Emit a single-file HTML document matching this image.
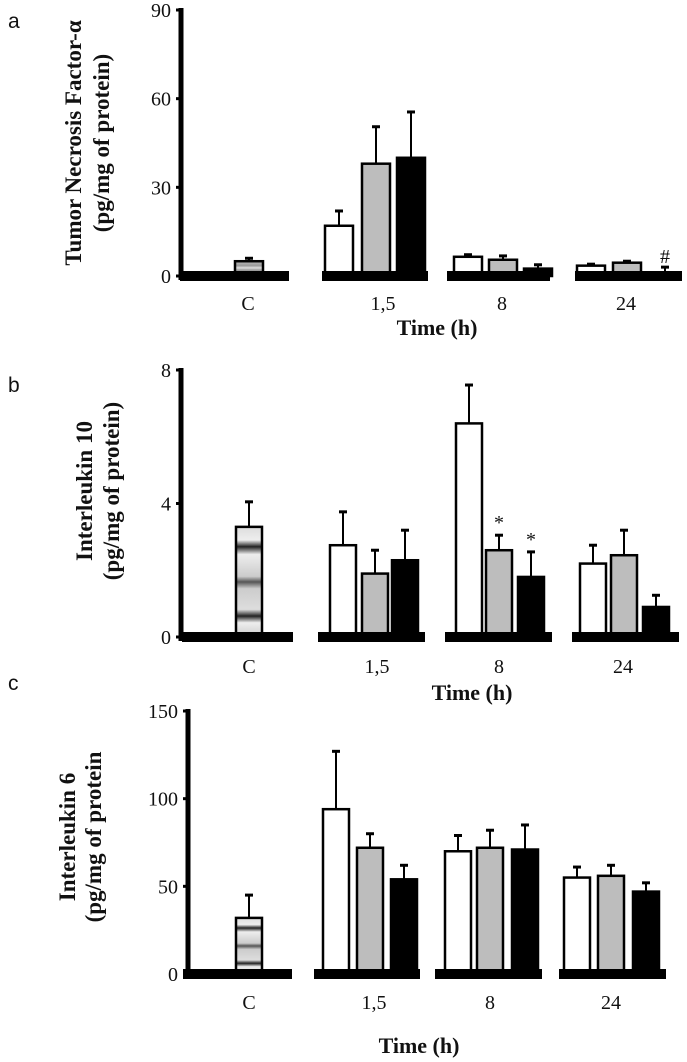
<!DOCTYPE html>
<html><head><meta charset="utf-8"><style>
html,body{margin:0;padding:0;background:#fff;}
svg{display:block;}
.t{font-family:"Liberation Serif",serif;font-size:20px;fill:#111;}
.ti{font-family:"Liberation Serif",serif;font-size:22px;font-weight:bold;fill:#111;}
.yt{font-family:"Liberation Serif",serif;font-size:23px;font-weight:bold;fill:#111;}
.pl{font-family:"Liberation Sans",sans-serif;font-size:21px;fill:#111;}
</style></head><body>
<svg id="fig" width="687" height="1062" viewBox="0 0 687 1062">
<defs>
<linearGradient id="gb" x1="0" y1="0" x2="0" y2="1">
<stop offset="0" stop-color="#ddd"/><stop offset="0.12" stop-color="#eee"/><stop offset="0.18" stop-color="#222"/><stop offset="0.25" stop-color="#eee"/><stop offset="0.45" stop-color="#ccc"/><stop offset="0.5" stop-color="#555"/><stop offset="0.56" stop-color="#ccc"/><stop offset="0.75" stop-color="#ddd"/><stop offset="0.81" stop-color="#222"/><stop offset="0.87" stop-color="#eee"/><stop offset="1" stop-color="#ccc"/>
</linearGradient>
<linearGradient id="ga" x1="0" y1="0" x2="0" y2="1">
<stop offset="0" stop-color="#bbb"/><stop offset="0.3" stop-color="#999"/><stop offset="0.45" stop-color="#ddd"/><stop offset="0.6" stop-color="#999"/><stop offset="1" stop-color="#bbb"/>
</linearGradient>
</defs>
</svg>
<script>
// Panel a: TNF-alpha
const groups = ["C","1,5","8","24"];
const tnfWhite = [null, 17, 6.5, 3.5];
const tnfWhiteErr = [null, 22, 7.2, 4];
const tnfGrey = [5, 38, 5.5, 4.5];
const tnfGreyErr = [6, 50.5, 6.8, 5];
const tnfBlack = [null, 40, 2.5, 1];
const tnfBlackErr = [null, 55.5, 3.8, 3];
const tnfTicks = [0, 30, 60, 90];
// Panel b: IL-10
const il10White = [null, 2.75, 6.4, 2.2];
const il10WhiteErr = [null, 3.75, 7.55, 2.75];
const il10Grey = [3.3, 1.9, 2.6, 2.45];
const il10GreyErr = [4.05, 2.6, 3.05, 3.2];
const il10Black = [null, 2.3, 1.8, 0.9];
const il10BlackErr = [null, 3.2, 2.55, 1.25];
const il10Ticks = [0, 4, 8];
// Panel c: IL-6
const il6White = [null, 94, 70, 55];
const il6WhiteErr = [null, 127, 79, 61];
const il6Grey = [32, 72, 72, 56];
const il6GreyErr = [45, 80, 82, 62];
const il6Black = [null, 54, 71, 47];
const il6BlackErr = [null, 62, 85, 52];
const il6Ticks = [0, 50, 100, 150];

const NS="http://www.w3.org/2000/svg";
const svg=document.getElementById('fig');
function mk(tag,attrs,parent){const e=document.createElementNS(NS,tag);for(const k in attrs)e.setAttribute(k,attrs[k]);(parent||svg).appendChild(e);return e;}

const panels=[
 {key:'a',letter:'a',lx:8,ly:28,ax:181,yTop:10,y0:276,max:90,ticks:tnfTicks,
  title:['Tumor Necrosis Factor-α','(pg/mg of protein)'],tx:[81,109],ty:143,
  segs:[[180,289],[322,428],[447,550],[575,682]],
  xs:[[null,235,null],[325,362,397],[454,489,524],[577,613,651]],w:28,
  white:tnfWhite,whiteE:tnfWhiteErr,grey:tnfGrey,greyE:tnfGreyErr,black:tnfBlack,blackE:tnfBlackErr,
  labY:310,labX:[248,383,502,626],timeX:437,timeY:335,cfill:'url(#ga)',marks:[[3,2,'#',-2]]},
 {key:'b',letter:'b',lx:8,ly:392,ax:181,yTop:370,y0:637,max:8,ticks:il10Ticks,
  title:['Interleukin 10','(pg/mg of protein)'],tx:[92,119],ty:491,
  segs:[[182,293],[318,425],[445,552],[572,679]],
  xs:[[null,236,null],[330,362,392],[456,486,518],[580,611,643]],w:26,
  white:il10White,whiteE:il10WhiteErr,grey:il10Grey,greyE:il10GreyErr,black:il10Black,blackE:il10BlackErr,
  labY:673,labX:[249,377,499,623],timeX:472,timeY:700,cfill:'url(#gb)',marks:[[2,1,'*',-4],[2,2,'*',-4]]},
 {key:'c',letter:'c',lx:8,ly:690,ax:188,yTop:711,y0:974,max:150,ticks:il6Ticks,
  title:['Interleukin 6','(pg/mg of protein'],tx:[75,101],ty:837,
  segs:[[183,292],[314,420],[435,542],[559,666]],
  xs:[[null,236,null],[323,357,391],[445,477,512],[564,598,633]],w:26,
  white:il6White,whiteE:il6WhiteErr,grey:il6Grey,greyE:il6GreyErr,black:il6Black,blackE:il6BlackErr,
  labY:1009,labX:[249,374,490,611],timeX:419,timeY:1053,cfill:'url(#gb)',marks:[]}
];

panels.forEach(p=>{
 const g=mk('g',{});
 
 
 const y=v=>p.y0-(v/p.max)*(p.y0-p.yTop);
 const L=mk('text',{x:p.lx,y:p.ly,class:'pl'},g);L.textContent=p.letter;
 
 
 p.title.forEach((s,i)=>{const t=mk('text',{x:p.tx[i],y:p.ty,class:'yt','text-anchor':'middle',transform:`rotate(-90 ${p.tx[i]} ${p.ty})`},g);t.textContent=s;
  
  });
 const ax=mk('line',{x1:p.ax,x2:p.ax,y1:p.yTop-2,y2:p.y0+4,stroke:'#000','stroke-width':5},g);
 
 
 p.ticks.forEach(v=>{
  mk('line',{x1:p.ax-5,x2:p.ax,y1:y(v),y2:y(v),stroke:'#000','stroke-width':3},g);
  const t=mk('text',{x:p.ax-10,y:y(v)+7,class:'t','text-anchor':'end'},g);t.textContent=v;
  
  
 });
 const series=[[p.white,p.whiteE,'#fff'],[p.grey,p.greyE,'#bdbdbd'],[p.black,p.blackE,'#000']];
 groups.forEach((gname,gi)=>{
  series.forEach((s,si)=>{
   const v=s[0][gi]; if(v==null) return;
   const x=p.xs[gi][si]; const fill=(gi===0)?p.cfill:s[2];
   const e=s[1][gi];
   mk('line',{x1:x+p.w/2,x2:x+p.w/2,y1:y(e),y2:y(v),stroke:'#000','stroke-width':2},g);
   mk('line',{x1:x+p.w/2-4,x2:x+p.w/2+4,y1:y(e),y2:y(e),stroke:'#000','stroke-width':3},g);
   const r=mk('rect',{x:x,y:y(v),width:p.w,height:Math.max(p.y0-y(v),1),fill:fill,stroke:'#000','stroke-width':2.5},g);
   
   
  });
  const sg=p.segs[gi];
  const b=mk('rect',{x:sg[0],y:p.y0-5,width:sg[1]-sg[0],height:10,fill:'#000'},g);
  
  
  const lt=mk('text',{x:p.labX[gi],y:p.labY,class:'t','text-anchor':'middle'},g);lt.textContent=gname;
  
  
 });
 p.marks.forEach(m=>{
  const gi=m[0],si=m[1];const arr=[p.whiteE,p.greyE,p.blackE][si];
  const t=mk('text',{x:p.xs[gi][si]+p.w/2,y:y(arr[gi])+m[3]-2,class:'t','text-anchor':'middle','font-size':'17'},g);t.textContent=m[2];
  
  
 });
 const tt=mk('text',{x:p.timeX,y:p.timeY,class:'ti','text-anchor':'middle'},g);tt.textContent='Time (h)';
 
 
});
</script>
</body></html>
